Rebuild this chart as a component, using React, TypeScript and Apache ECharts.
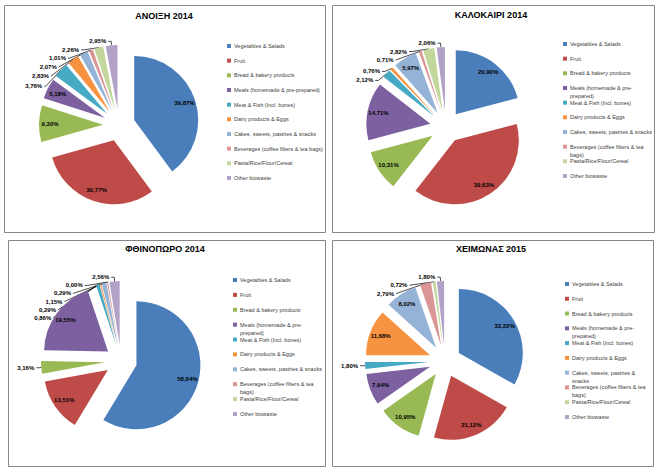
import React, { useEffect, useRef } from 'react';
import * as echarts from 'echarts';

const categories = [
  'Vegetables & Salads',
  'Fruit',
  'Bread & bakery products',
  'Meals (homemade & pre-prepared)',
  'Meat & Fish (Incl. bones)',
  'Dairy products & Eggs',
  'Cakes, sweets, pastries & snacks',
  'Beverages (coffee filters & tea bags)',
  'Pasta/Rice/Flour/Cereal',
  'Other biowaste',
];

const seasonTitles = ['ΑΝΟΙΞΗ 2014', 'ΚΑΛΟΚΑΙΡΙ 2014', 'ΦΘΙΝΟΠΩΡΟ 2014', 'ΧΕΙΜΩΝΑΣ 2015'];

const spring2014 = [39.87, 30.77, 9.3, 5.18, 3.76, 2.83, 2.07, 1.01, 2.26, 2.95];
const summer2014 = [20.9, 39.63, 10.31, 14.71, 2.12, 0.76, 5.97, 0.71, 2.82, 2.06];
const autumn2014 = [58.64, 13.51, 3.16, 19.55, 0.86, 0.29, 1.15, 0.29, 0.0, 2.56];
const winter2015 = [33.22, 21.12, 10.95, 7.94, 1.8, 11.68, 8.02, 2.79, 0.72, 1.8];

const seasonValues = [spring2014, summer2014, autumn2014, winter2015];

const colors = [
  '#4A7EBB', '#BE4B48', '#98B954', '#7D60A0', '#46AAC5',
  '#F69240', '#95B3D7', '#D99694', '#C3D69B', '#B3A2C7',
];

// wrapped legend entries: [first line, second line]
const wrapMeals = ['Meals (homemade & pre-', 'prepared)'];
const wrapCakes = ['Cakes, sweets, pastries &', 'snacks'];
const wrapBev = ['Beverages (coffee filters & tea', 'bags)'];

const panelLayout = [
  { box: [4, 5, 321, 227], titleXY: [164, 16], center: [119, 125], legendX: 227, legendY: [46, 178], wraps: {} as Record<number, string[]> },
  { box: [332, 5, 322, 227], titleXY: [491, 15], center: [446, 127], legendX: 563, legendY: [44, 176], wraps: { 3: wrapMeals, 7: wrapBev } as Record<number, string[]> },
  { box: [8, 240, 317, 226], titleXY: [165, 249], center: [121, 361], legendX: 233, legendY: [280, 414], wraps: { 3: wrapMeals, 7: wrapBev } as Record<number, string[]> },
  { box: [332, 240, 321, 226], titleXY: [491, 249], center: [445, 361], legendX: 565, legendY: [284, 417], wraps: { 3: wrapMeals, 6: wrapCakes, 7: wrapBev } as Record<number, string[]> },
];

const FONT = '"Liberation Sans", Arial, sans-serif';
const RADIUS = 64;
const EXPLODE = 16;
const LINE_H = 8;

const fmt = (v: number) => v.toFixed(2).replace('.', ',') + '%';

function buildOption() {
  const series: any[] = [];
  const labelSeries: any[] = [];
  const legends: any[] = [];
  const graphics: any[] = [];

  panelLayout.forEach((p, pi) => {
    const values = seasonValues[pi];
    series.push({
      type: 'pie',
      center: p.center,
      radius: RADIUS,
      startAngle: 90,
      clockwise: true,
      selectedMode: 'multiple',
      selectedOffset: EXPLODE,
      avoidLabelOverlap: true,
      emphasis: { disabled: true },
      select: { itemStyle: { borderWidth: 0 } },
      itemStyle: { borderWidth: 0 },
      label: {
        show: true,
        position: 'outside',
        formatter: (prm: any) => fmt(prm.value),
        fontSize: 6,
        fontWeight: 'bold',
        color: '#000',
        fontFamily: FONT,
        distanceToLabelLine: 2,
      },
      labelLine: { show: true, length: 4, length2: 3, lineStyle: { color: '#000', width: 0.7 } },
      data: categories.map((name, i) => ({
        name,
        value: values[i],
        selected: true,
        label: { show: values[i] < 5 },
        labelLine: { show: values[i] < 5 },
      })),
    });
    labelSeries.push({
      type: 'pie',
      center: p.center,
      radius: RADIUS * 1.56,
      startAngle: 90,
      clockwise: true,
      silent: true,
      selectedMode: 'multiple',
      selectedOffset: EXPLODE,
      avoidLabelOverlap: false,
      emphasis: { disabled: true },
      itemStyle: { color: 'rgba(0,0,0,0)', borderWidth: 0 },
      select: { itemStyle: { color: 'rgba(0,0,0,0)', borderWidth: 0 } },
      label: {
        show: true,
        position: 'inside',
        formatter: (prm: any) => fmt(prm.value),
        fontSize: 6,
        fontWeight: 'bold',
        color: '#000',
        fontFamily: FONT,
      },
      labelLine: { show: false },
      data: categories.map((name, i) => ({
        name,
        value: values[i],
        selected: true,
        label: { show: values[i] >= 5 },
      })),
    });

    const n = categories.length;
    const pitch = (p.legendY[1] - p.legendY[0]) / (n - 1);
    const wraps = p.wraps;
    legends.push({
      orient: 'vertical',
      left: p.legendX,
      top: p.legendY[0] - LINE_H / 2,
      itemWidth: 4,
      itemHeight: 4,
      itemGap: pitch - LINE_H,
      icon: 'rect',
      padding: 0,
      selectedMode: false,
      data: categories,
      formatter: (name: string) => {
        const idx = categories.indexOf(name);
        return wraps[idx] ? wraps[idx][0] : name;
      },
      textStyle: { fontSize: 5.5, lineHeight: LINE_H, color: '#404040', fontFamily: FONT, padding: [0, 0, 0, -2] },
    });
    Object.keys(wraps).forEach((k) => {
      const idx = Number(k);
      graphics.push({
        type: 'text',
        x: p.legendX + 7,
        y: p.legendY[0] + pitch * idx + LINE_H,
        style: {
          text: wraps[idx][1],
          fill: '#404040',
          fontSize: 5.5,
          fontFamily: FONT,
          align: 'left',
          verticalAlign: 'middle',
        },
      });
    });

    graphics.push({
      type: 'rect',
      shape: { x: p.box[0] + 0.5, y: p.box[1] + 0.5, width: p.box[2], height: p.box[3] },
      style: { fill: 'none', stroke: '#868686', lineWidth: 1 },
      silent: true,
    });
    graphics.push({
      type: 'text',
      x: p.titleXY[0],
      y: p.titleXY[1],
      style: {
        text: seasonTitles[pi],
        fill: '#000',
        fontSize: 9,
        fontWeight: 'bold',
        fontFamily: FONT,
        align: 'center',
        verticalAlign: 'middle',
      },
    });
  });

  return {
    animation: false,
    backgroundColor: '#fff',
    color: colors,
    legend: legends,
    graphic: graphics,
    series: [...series, ...labelSeries],
  };
}

export default function App() {
  const ref = useRef<HTMLDivElement>(null);
  useEffect(() => {
    if (!ref.current) return;
    const chart = echarts.init(ref.current, null, { renderer: 'svg' });
    chart.setOption(buildOption() as any);
    return () => chart.dispose();
  }, []);
  return (
    <div
      ref={ref}
      style={{ position: 'fixed', left: 0, top: 0, width: 658, height: 476, background: '#fff' }}
    />
  );
}
